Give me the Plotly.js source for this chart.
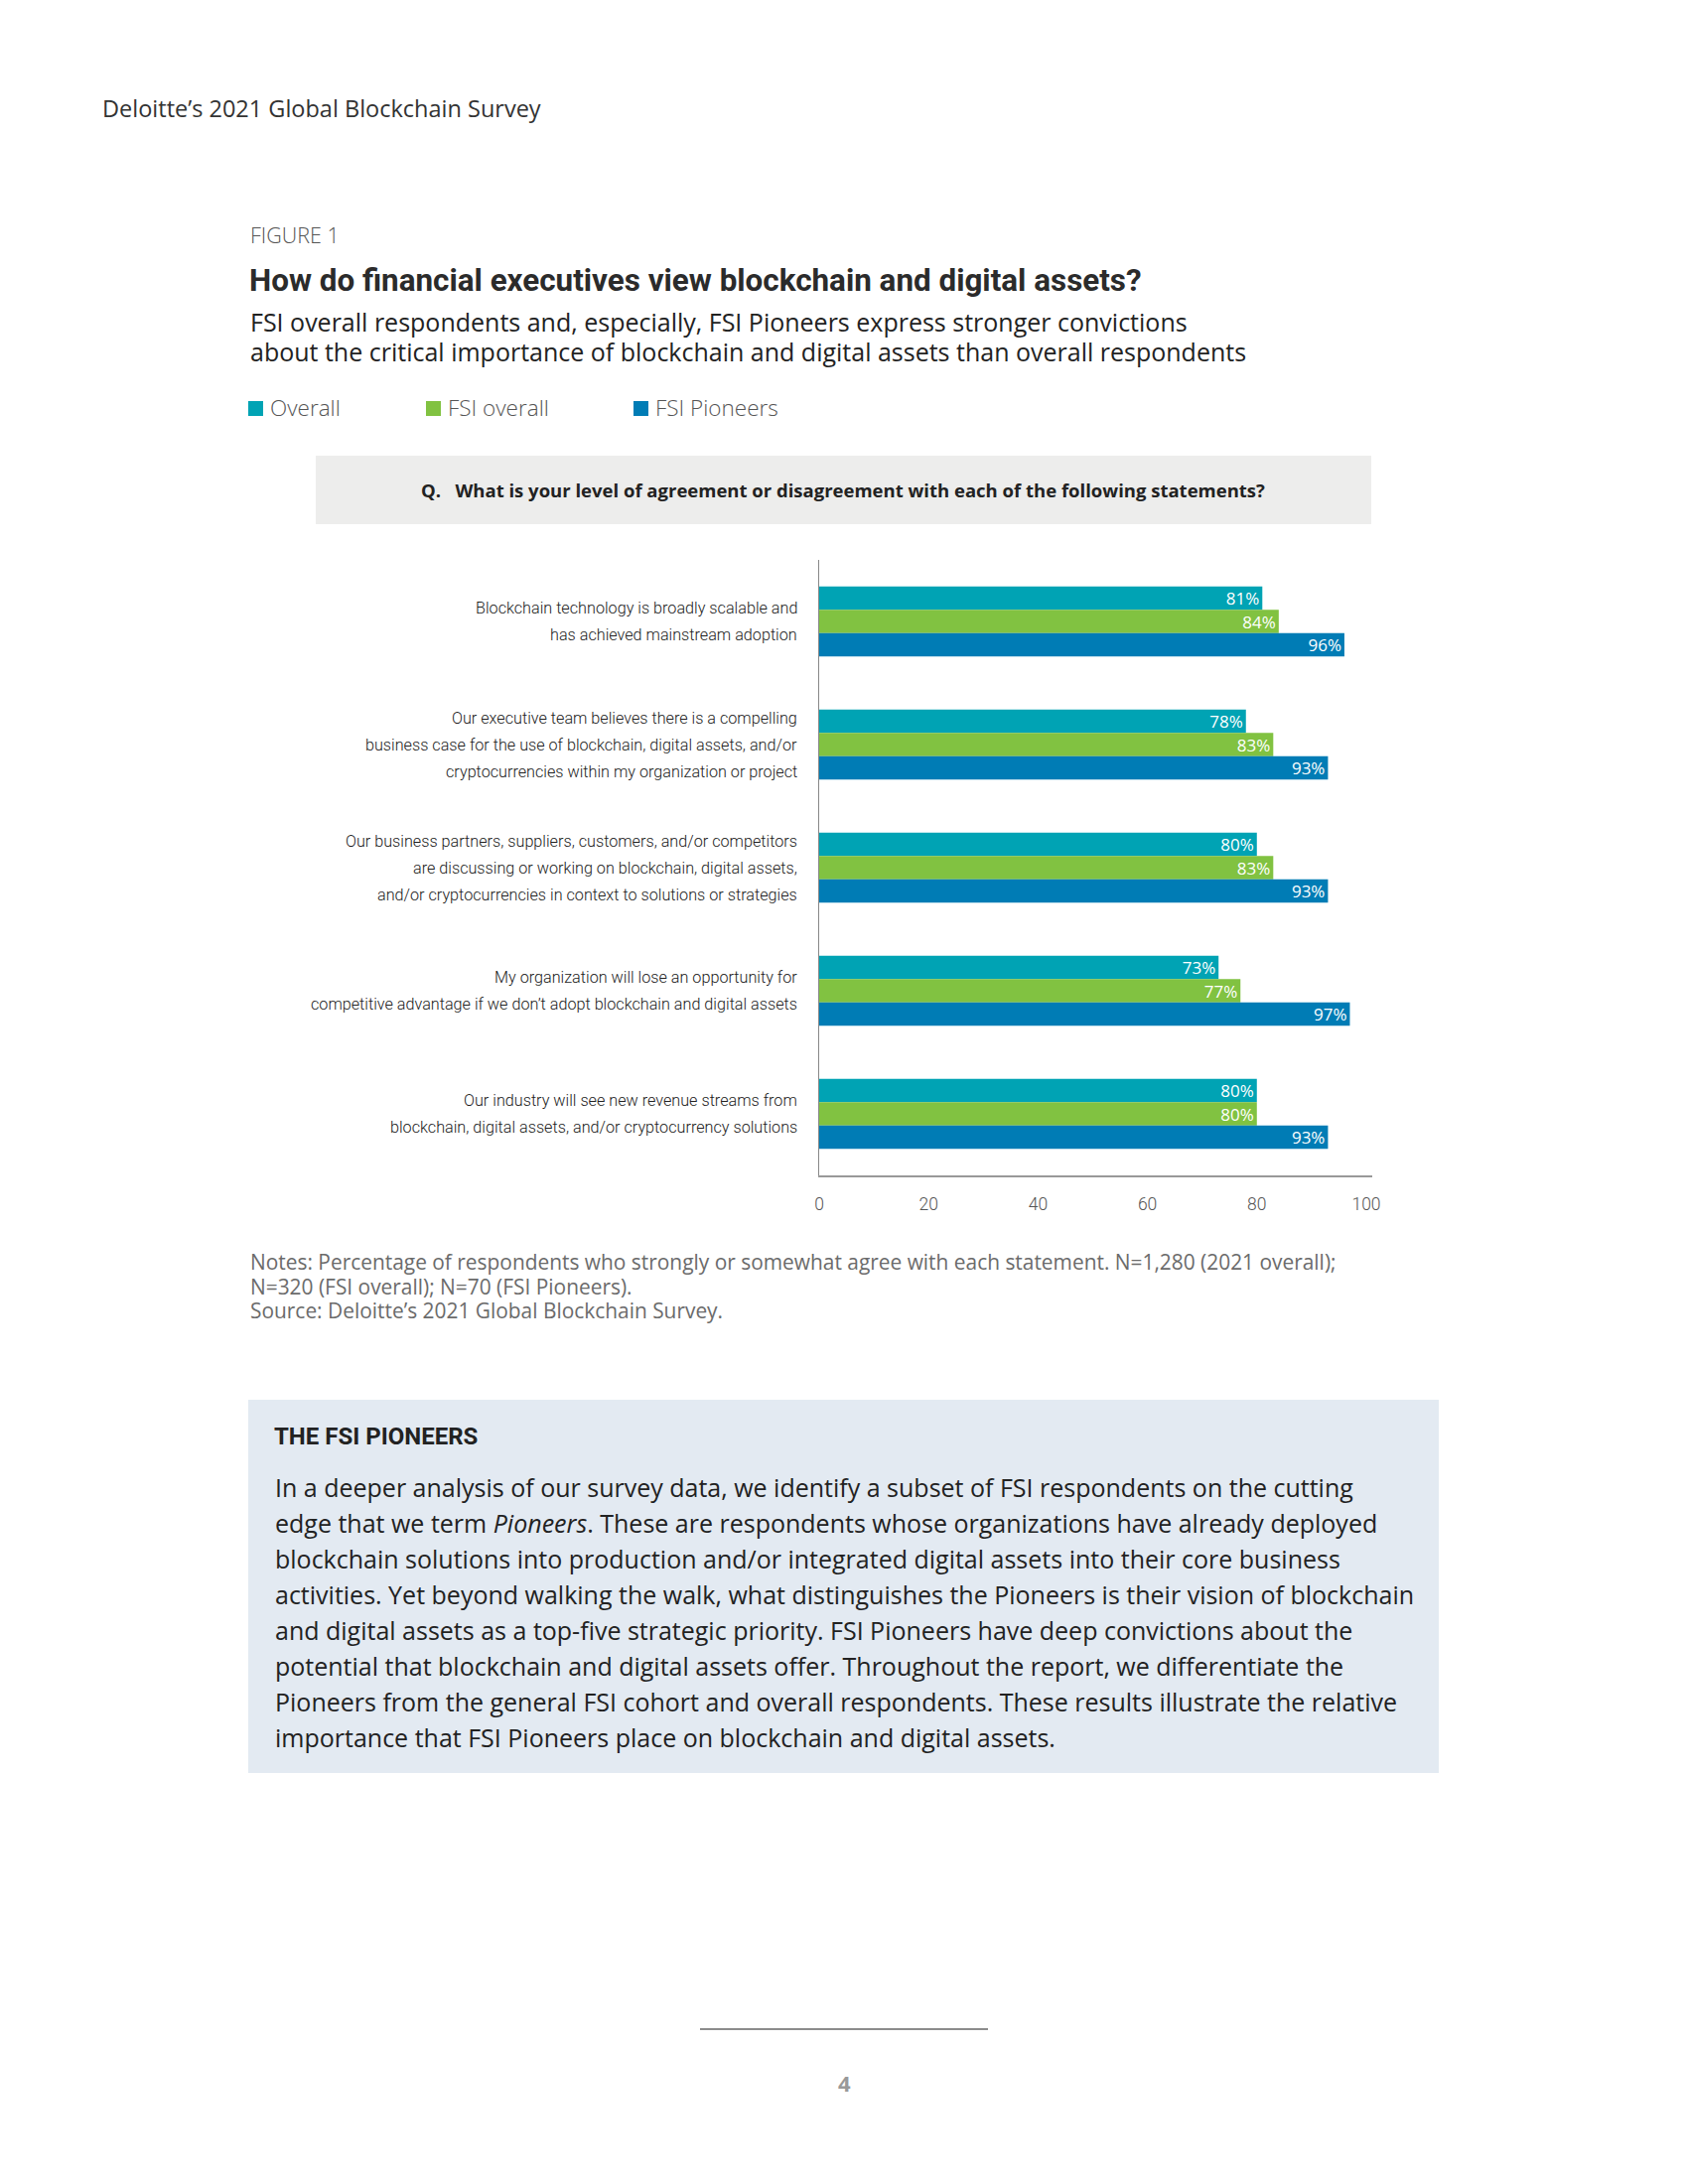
<!DOCTYPE html>
<html>
<head>
<meta charset="utf-8">
<script src="https://cdn.plot.ly/plotly-3.0.1.min.js"></script>
<style>
  html, body { margin: 0; padding: 0; background: #ffffff; }
  #chart { width: 1700px; height: 2200px; }
</style>
</head>
<body>
<div id="chart"></div>
<script>
// ---------- DATA ----------
const categories = [
  "Blockchain technology is broadly scalable and<br>has achieved mainstream adoption",
  "Our executive team believes there is a compelling<br>business case for the use of blockchain, digital assets, and/or<br>cryptocurrencies within my organization or project",
  "Our business partners, suppliers, customers, and/or competitors<br>are discussing or working on blockchain, digital assets,<br>and/or cryptocurrencies in context to solutions or strategies",
  "My organization will lose an opportunity for<br>competitive advantage if we don’t adopt blockchain and digital assets",
  "Our industry will see new revenue streams from<br>blockchain, digital assets, and/or cryptocurrency solutions"
];
const seriesNames = ["Overall", "FSI overall", "FSI Pioneers"];
const overall     = [81, 78, 80, 73, 80];
const fsiOverall  = [84, 83, 83, 77, 80];
const fsiPioneers = [96, 93, 93, 97, 93];
const xTickValues = [0, 20, 40, 60, 80, 100];

const headerText = "Deloitte’s 2021 Global Blockchain Survey";
const figureLabel = "FIGURE 1";
const titleText = "How do financial executives view blockchain and digital assets?";
const subtitleLines = [
  "FSI overall respondents and, especially, FSI Pioneers express stronger convictions",
  "about the critical importance of blockchain and digital assets than overall respondents"
];
const questionText = "Q.&nbsp;&nbsp;&nbsp;What is your level of agreement or disagreement with each of the following statements?";
const noteLines = [
  "Notes: Percentage of respondents who strongly or somewhat agree with each statement. N=1,280 (2021 overall);",
  "N=320 (FSI overall); N=70 (FSI Pioneers).",
  "Source: Deloitte’s 2021 Global Blockchain Survey."
];
const boxTitle = "THE FSI PIONEERS";
const boxLines = [
  "In a deeper analysis of our survey data, we identify a subset of FSI respondents on the cutting",
  "edge that we term <i>Pioneers</i>. These are respondents whose organizations have already deployed",
  "blockchain solutions into production and/or integrated digital assets into their core business",
  "activities. Yet beyond walking the walk, what distinguishes the Pioneers is their vision of blockchain",
  "and digital assets as a top-five strategic priority. FSI Pioneers have deep convictions about the",
  "potential that blockchain and digital assets offer. Throughout the report, we differentiate the",
  "Pioneers from the general FSI cohort and overall respondents. These results illustrate the relative",
  "importance that FSI Pioneers place on blockchain and digital assets."
];
const pageNumber = "4";

// ---------- STYLE ----------
const W = 1700, H = 2200;
const colors = ["#00A3B4", "#81C241", "#007CB5"];
const sans = "Open Sans, Noto Sans, sans-serif";
const thin = "Roboto, Liberation Sans, sans-serif";
const px = v => v / W;
const py = v => 1 - v / H;

function ann(text, x, y, opts) {
  return Object.assign({
    text: text, x: px(x), y: py(y), xref: "paper", yref: "paper",
    xanchor: "left", yanchor: "middle", showarrow: false,
    font: {family: sans, size: 20, color: "#333"}
  }, opts || {});
}

const values = [overall, fsiOverall, fsiPioneers];
const traces = values.map((vals, i) => ({
  type: "bar",
  orientation: "h",
  name: seriesNames[i],
  y: categories,
  x: vals,
  marker: {color: colors[i], line: {width: 0}},
  texttemplate: "%{x}%",
  textposition: "inside",
  insidetextanchor: "end",
  constraintext: "none",
  textfont: {family: sans, size: 17, color: "#ffffff"},
  cliponaxis: false,
  hoverinfo: "skip"
}));

const annotations = [];
annotations.push(ann(headerText, 101, 109, {font: {family: sans, size: 23.5, color: "#333"}}));
annotations.push(ann(figureLabel, 250, 236, {font: {family: sans, size: 21.5, color: "#555", weight: 300}}));
annotations.push(ann("<b>" + titleText + "</b>", 249, 282, {font: {family: thin, size: 31.4, color: "#2b2b2b"}}));
subtitleLines.forEach((t, i) => annotations.push(ann(t, 250, 324 + i * 30, {font: {family: sans, size: 25, color: "#222"}})));
// legend
const legendX = [250, 429, 638];
seriesNames.forEach((n, i) => annotations.push(ann(n, legendX[i] + 20, 411, {font: {family: sans, size: 22.5, color: "#555", weight: 300}})));
annotations.push(ann("<b>" + questionText + "</b>", 849, 493, {xanchor: "center", font: {family: sans, size: 18.5, color: "#222"}}));
noteLines.forEach((t, i) => annotations.push(ann(t, 250, 1271 + i * 24.5, {font: {family: sans, size: 20.9, color: "#6b6b6b"}})));
annotations.push(ann("<b>" + boxTitle + "</b>", 274, 1447, {font: {family: thin, size: 24, color: "#222"}}));
boxLines.forEach((t, i) => annotations.push(ann(t, 275, 1498 + i * 36, {font: {family: sans, size: 25, color: "#222"}})));
annotations.push(ann("<b>" + pageNumber + "</b>", 850, 2098, {xanchor: "center", font: {family: sans, size: 22, color: "#999"}}));

// category labels: one annotation per line, anchored to the category on the y axis
const labelLinePitch = 27;
categories.forEach(cat => {
  const lines = cat.split("<br>");
  lines.forEach((line, k) => {
    annotations.push({
      text: line, xref: "paper", yref: "y", x: px(805), y: cat,
      xanchor: "right", yanchor: "middle", showarrow: false,
      yshift: ((lines.length - 1) / 2 - k) * labelLinePitch,
      font: {family: thin, size: 16.2, color: "#222", weight: 300}
    });
  });
});

const shapes = [
  {type: "rect", xref: "paper", yref: "paper", x0: px(318), x1: px(1381), y0: py(528), y1: py(459),
   fillcolor: "#EDEDEC", line: {width: 0}, layer: "below"},
  {type: "rect", xref: "paper", yref: "paper", x0: px(250), x1: px(1449), y0: py(1786), y1: py(1410),
   fillcolor: "#E3EAF2", line: {width: 0}, layer: "below"},
  {type: "line", xref: "paper", yref: "paper", x0: px(705), x1: px(995), y0: py(2044), y1: py(2044),
   line: {color: "#666", width: 1.5}}
];
legendX.forEach((x, i) => shapes.push({
  type: "rect", xref: "paper", yref: "paper", x0: px(x), x1: px(x + 15), y0: py(419), y1: py(404),
  fillcolor: colors[i], line: {width: 0}
}));

const layout = {
  width: W, height: H,
  margin: {l: 0, r: 0, t: 0, b: 0},
  paper_bgcolor: "#ffffff", plot_bgcolor: "rgba(0,0,0,0)",
  showlegend: false,
  barmode: "group",
  bargap: 0.43,
  bargroupgap: 0,
  xaxis: {
    domain: [px(825), px(1381.5)],
    range: [0, 101],
    tickvals: xTickValues,
    ticktext: xTickValues.map(String),
    showgrid: false, zeroline: false,
    showline: true, linecolor: "#999", linewidth: 1.5,
    ticks: "", ticklabelstandoff: 12,
    tickfont: {family: thin, size: 17.5, color: "#555", weight: 300},
    fixedrange: true
  },
  yaxis: {
    domain: [py(1184), py(564)],
    autorange: "reversed",
    type: "category",
    showgrid: false, zeroline: false,
    showline: true, linecolor: "#888", linewidth: 1,
    ticks: "", showticklabels: false,
    fixedrange: true
  },
  annotations: annotations,
  shapes: shapes
};

Plotly.newPlot("chart", traces, layout, {staticPlot: true, displayModeBar: false});
</script>
</body>
</html>
